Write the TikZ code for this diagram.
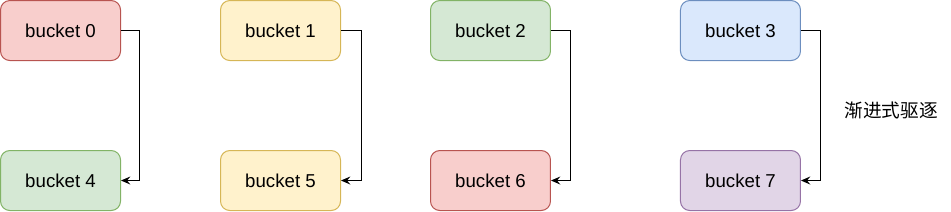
\documentclass[tikz,border=0pt]{standalone}
\usepackage{fontspec}
\setmainfont{Liberation Sans}
\newfontfamily\cjkfont{Noto Sans CJK SC}
\usetikzlibrary{positioning,arrows.meta}

\definecolor{redfill}{HTML}{F8CECC}
\definecolor{reddraw}{HTML}{B85450}
\definecolor{yellowfill}{HTML}{FFF2CC}
\definecolor{yellowdraw}{HTML}{D6B656}
\definecolor{greenfill}{HTML}{D5E8D4}
\definecolor{greendraw}{HTML}{82B366}
\definecolor{bluefill}{HTML}{DAE8FC}
\definecolor{bluedraw}{HTML}{6C8EBF}
\definecolor{purplefill}{HTML}{E1D5E7}
\definecolor{purpledraw}{HTML}{9673A6}

\begin{document}
\begin{tikzpicture}[
        font=\fontsize{14}{16}\selectfont,
        node distance=66.75pt and 74.25pt,
        bucket/.style={rectangle, draw, rounded corners=7pt, line width=0.75pt, minimum width=90pt, minimum height=45pt, align=center},
        redbox/.style={bucket, fill=redfill, draw=reddraw},
        yellowbox/.style={bucket, fill=yellowfill, draw=yellowdraw},
        greenbox/.style={bucket, fill=greenfill, draw=greendraw},
        bluebox/.style={bucket, fill=bluefill, draw=bluedraw},
        purplebox/.style={bucket, fill=purplefill, draw=purpledraw},
        arrow/.style={-{Stealth[length=7pt,width=6pt,inset=2.5pt]}, line width=0.75pt}
    ]
    \useasboundingbox (-45.4pt,22.9pt) rectangle (667.9pt,-135.4pt);

    % Nodes
    \node[redbox] (b0) {bucket 0};
    \node[yellowbox, right=of b0] (b1) {bucket 1};
    \node[greenbox, right=66.75pt of b1] (b2) {bucket 2};
    \node[bluebox, right=96.75pt of b2] (b3) {bucket 3};

    \node[greenbox, below=of b0] (b4) {bucket 4};
    \node[yellowbox, below=of b1] (b5) {bucket 5};
    \node[redbox, below=of b2] (b6) {bucket 6};
    \node[purplebox, below=of b3] (b7) {bucket 7};

    % Arrows
    \draw[arrow] (b0.east) -- ++(14pt,0) |- (b4.east);
    \draw[arrow] (b1.east) -- ++(15pt,0) |- (b5.east);
    \draw[arrow] (b2.east) -- ++(15pt,0) |- (b6.east);
    \draw[arrow] (b3.east) -- ++(15pt,0) |- node[pos=0.25, right=14pt, yshift=-4pt] {\cjkfont 渐进式驱逐} (b7.east);

\end{tikzpicture}
\end{document}
